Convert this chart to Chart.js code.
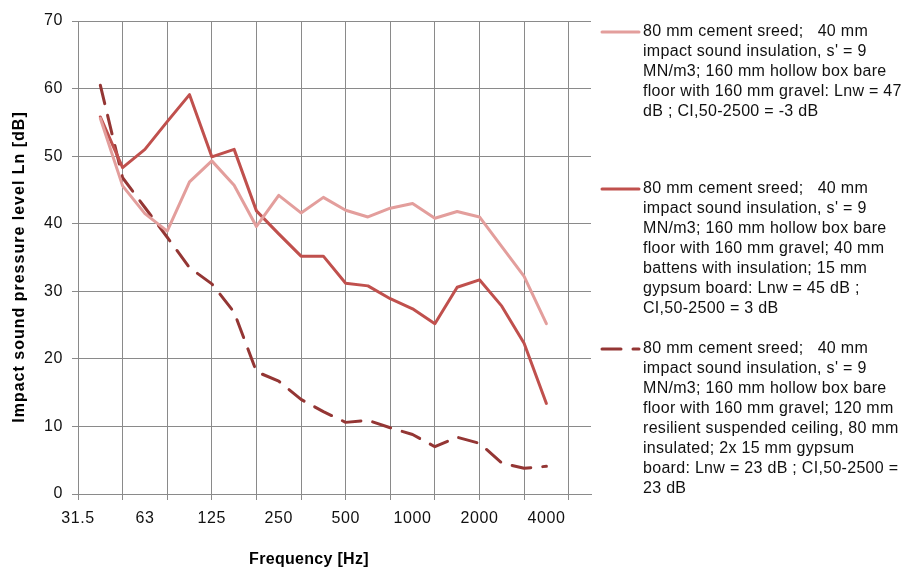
<!DOCTYPE html>
<html>
<head>
<meta charset="utf-8">
<script src="https://cdn.jsdelivr.net/npm/chart.js@4.4.1/dist/chart.umd.min.js"></script>
<style>
  html, body { margin: 0; padding: 0; background: #fff; }
  #chart { display: block; }
</style>
</head>
<body>
<canvas id="chart" width="902" height="570"></canvas>
<script>
// third-octave bands, 40 Hz .. 4000 Hz
const freqBands = ['40', '50', '63', '80', '100', '125', '160', '200', '250', '315', '400',
  '500', '630', '800', '1000', '1250', '1600', '2000', '2500', '3150', '4000']

// octave tick labels, one every third band starting one band below 40 Hz
const tickLabels = ['31.5', '63', '125', '250', '500', '1000', '2000', '4000']

const bareFloor = [55.6, 45.6, 41.5, 38.9, 46.2, 49.3, 45.7, 39.6, 44.2, 41.6, 43.9,
  42.0, 41.0, 42.3, 43.0, 40.8, 41.8, 41.0, 36.6, 32.2, 25.2]
const withBattens = [55.8, 48.3, 51.0, 55.1, 59.1, 49.9, 51.0, 41.9, 38.5, 35.2, 35.2,
  31.2, 30.8, 28.9, 27.4, 25.2, 30.6, 31.7, 27.8, 22.3, 13.4]
const withCeiling = [60.5, 46.8, 42.4, 38.0, 33.5, 31.1, 26.9, 18.1, 16.7, 14.0, 12.2,
  10.6, 10.9, 9.8, 8.8, 7.0, 8.4, 7.5, 4.6, 3.8, 4.1]

const seriesLabels = [
  ["80 mm cement sreed;   40 mm", "impact sound insulation, s' = 9", "MN/m3; 160 mm hollow box bare",
   "floor with 160 mm gravel: Lnw = 47", "dB ; CI,50-2500 = -3 dB"],
  ["80 mm cement sreed;   40 mm", "impact sound insulation, s' = 9", "MN/m3; 160 mm hollow box bare",
   "floor with 160 mm gravel; 40 mm", "battens with insulation; 15 mm", "gypsum board: Lnw = 45 dB ;",
   "CI,50-2500 = 3 dB"],
  ["80 mm cement sreed;   40 mm", "impact sound insulation, s' = 9", "MN/m3; 160 mm hollow box bare",
   "floor with 160 mm gravel; 120 mm", "resilient suspended ceiling, 80 mm", "insulated; 2x 15 mm gypsum",
   "board: Lnw = 23 dB ; CI,50-2500 =", "23 dB"]
]

const xTitle = 'Frequency [Hz]'
const yTitle = 'Impact sound pressure level Ln [dB]'

const gridColor = '#8a8a8a'
const fontFamily = '"Liberation Sans", Arial, sans-serif'

const toPoints = values => values.map((v, i) => ({ x: i + 1, y: v }))

const series = [
  { values: bareFloor, color: '#E39E9C', dash: [] },
  { values: withBattens, color: '#C0504D', dash: [] },
  { values: withCeiling, color: '#943634', dash: [19, 12] }
]

const datasets = series.map((s, i) => ({
  label: seriesLabels[i].join(' '),
  data: toPoints(s.values),
  borderColor: s.color,
  backgroundColor: s.color,
  borderWidth: 3,
  borderDash: s.dash,
  borderCapStyle: 'round',
  borderJoinStyle: 'round',
  pointRadius: 0,
  tension: 0,
  fill: false
}))

// the source renders text a little wider than the font does on its own
const spacing = {
  id: 'spacing',
  beforeDraw(chart) { chart.ctx.letterSpacing = '0.6px' }
}

// axis titles and the wrapped legend on the right
const decorations = {
  id: 'decorations',
  afterDraw(chart) {
    const { ctx } = chart
    ctx.save()
    ctx.fillStyle = '#000'
    ctx.letterSpacing = '0.3px'
    ctx.font = 'bold 16px ' + fontFamily
    ctx.textAlign = 'center'
    ctx.textBaseline = 'middle'
    ctx.fillText(xTitle, 309, 560)
    ctx.letterSpacing = '1px'
    ctx.translate(20, 267)
    ctx.rotate(-Math.PI / 2)
    ctx.fillText(yTitle, 0, 0)
    ctx.restore()

    const entryTops = [32, 189, 349]
    const lineGap = 20
    ctx.save()
    ctx.letterSpacing = '0.3px'
    ctx.font = '16px ' + fontFamily
    ctx.textAlign = 'left'
    ctx.textBaseline = 'middle'
    chart.data.datasets.forEach((ds, i) => {
      const y = entryTops[i]
      ctx.strokeStyle = ds.borderColor
      ctx.lineWidth = 3
      ctx.lineCap = 'round'
      ctx.setLineDash(ds.borderDash)
      ctx.beginPath()
      ctx.moveTo(602, y)
      ctx.lineTo(639, y)
      ctx.stroke()
      ctx.setLineDash([])
      ctx.fillStyle = '#111'
      seriesLabels[i].forEach((line, j) => ctx.fillText(line, 643, y + j * lineGap))
    })
    ctx.restore()
  }
}

new Chart(document.getElementById('chart').getContext('2d'), {
  type: 'line',
  data: { datasets },
  options: {
    responsive: false,
    devicePixelRatio: 1,
    animation: false,
    layout: { padding: { left: 0, top: 21, right: 311, bottom: 0 } },
    plugins: {
      legend: { display: false },
      tooltip: { enabled: false }
    },
    scales: {
      x: {
        type: 'linear',
        min: 0,
        max: 23,
        afterBuildTicks: scale => {
          scale.ticks = Array.from({ length: 24 }, (_, v) => ({ value: v }))
        },
        afterFit: scale => { scale.height = 76 },
        grid: {
          color: ctx => (ctx.tick && ctx.tick.value % 2 === 0 ? gridColor : 'rgba(0,0,0,0)'),
          lineWidth: 1,
          tickLength: 6,
          drawOnChartArea: true
        },
        border: { color: gridColor, width: 1 },
        ticks: {
          autoSkip: false,
          maxRotation: 0,
          padding: 9,
          color: '#111',
          font: { family: fontFamily, size: 16 },
          callback: v => (v % 3 === 0 ? tickLabels[v / 3] : '')
        }
      },
      y: {
        min: 0,
        max: 70,
        afterFit: scale => { scale.width = 78 },
        grid: { color: gridColor, lineWidth: 1, tickLength: 6 },
        border: { color: gridColor, width: 1 },
        ticks: {
          stepSize: 10,
          padding: 9,
          color: '#111',
          font: { family: fontFamily, size: 16 }
        }
      }
    }
  },
  plugins: [spacing, decorations]
})
</script>
</body>
</html>
